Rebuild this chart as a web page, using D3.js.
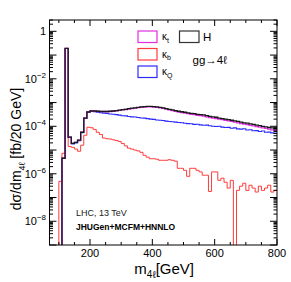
<!DOCTYPE html>
<html lang="en">
  <head>
    <meta charset="utf-8">
    <title>gg to 4l</title>
    <script type="text/javascript" src="https://cdn.jsdelivr.net/npm/d3@7"></script>
    <style>
      body { margin: 0; background: #fff; }
      text { font-family: "Liberation Sans", Arial, sans-serif; }
    </style>
  </head>
  <body>
    <script type="text/javascript">
    // bin lower edges, 10 GeV wide, from 70 to 790
    var binLow = d3.range(70, 800, 10);

    // H (black)
    var hVals = [0, 0, 0, 0, 4.5e-6, 0.19, 3.5e-5, 1.9e-5, 2.1e-5, 2.6e-5, 5.6e-5, 2.2e-4, 4.0e-4,
      4.4e-4, 4.4e-4, 4.3e-4, 4.2e-4, 4.2e-4, 4.2e-4, 4.3e-4, 4.4e-4, 4.6e-4, 4.8e-4,
      5.0e-4, 5.2e-4, 5.5e-4, 5.8e-4, 6.0e-4, 6.3e-4, 6.6e-4, 6.8e-4, 6.9e-4, 6.9e-4,
      6.8e-4, 6.6e-4, 6.3e-4, 6.0e-4, 5.6e-4, 5.2e-4, 4.9e-4, 4.6e-4, 4.3e-4, 4.1e-4,
      3.9e-4, 3.7e-4, 3.5e-4, 3.4e-4, 3.2e-4, 3.1e-4, 3.0e-4, 2.8e-4, 2.6e-4, 2.5e-4,
      2.4e-4, 2.2e-4, 2.1e-4, 2.0e-4, 1.9e-4, 1.8e-4, 1.7e-4, 1.6e-4, 1.5e-4, 1.4e-4,
      1.35e-4, 1.26e-4, 1.2e-4, 1.12e-4, 1.07e-4, 1.0e-4, 9.5e-5, 8.9e-5, 8.5e-5, 7.9e-5];

    // kappa_t (magenta)
    var ktVals = [0, 0, 0, 0, 4.5e-6, 0.19, 3.5e-5, 1.9e-5, 2.1e-5, 2.6e-5, 5.6e-5, 2.2e-4, 4.0e-4,
      4.4e-4, 4.4e-4, 4.3e-4, 4.2e-4, 4.2e-4, 4.2e-4, 4.2e-4, 4.3e-4, 4.5e-4, 4.7e-4,
      4.9e-4, 5.1e-4, 5.3e-4, 5.6e-4, 5.8e-4, 6.1e-4, 6.3e-4, 6.5e-4, 6.6e-4, 6.6e-4,
      6.5e-4, 6.3e-4, 6.0e-4, 5.7e-4, 5.3e-4, 4.9e-4, 4.6e-4, 4.3e-4, 4.0e-4, 3.8e-4,
      3.6e-4, 3.4e-4, 3.2e-4, 3.1e-4, 2.9e-4, 2.8e-4, 2.7e-4, 2.5e-4, 2.3e-4, 2.2e-4,
      2.1e-4, 2.0e-4, 1.9e-4, 1.8e-4, 1.7e-4, 1.6e-4, 1.5e-4, 1.4e-4, 1.3e-4, 1.25e-4,
      1.18e-4, 1.1e-4, 1.04e-4, 9.7e-5, 9.2e-5, 8.6e-5, 8.1e-5, 7.6e-5, 7.1e-5, 6.7e-5];

    // kappa_Q (blue)
    var kqVals = [0, 0, 0, 0, 4.5e-6, 0.19, 3.4e-5, 1.8e-5, 2.0e-5, 2.5e-5, 5.4e-5, 2.2e-4, 4.0e-4,
      4.3e-4, 4.1e-4, 3.9e-4, 3.7e-4, 3.6e-4, 3.5e-4, 3.3e-4, 3.2e-4, 3.1e-4, 2.95e-4,
      2.8e-4, 2.75e-4, 2.6e-4, 2.5e-4, 2.45e-4, 2.35e-4, 2.25e-4, 2.2e-4, 2.1e-4, 2.0e-4,
      1.95e-4, 1.85e-4, 1.8e-4, 1.75e-4, 1.65e-4, 1.6e-4, 1.55e-4, 1.5e-4, 1.45e-4, 1.4e-4,
      1.35e-4, 1.3e-4, 1.28e-4, 1.2e-4, 1.22e-4, 1.15e-4, 1.1e-4, 1.12e-4, 1.05e-4, 1.0e-4,
      9.8e-5, 1.0e-4, 9.2e-5, 8.9e-5, 9.0e-5, 8.3e-5, 8.6e-5, 7.8e-5, 7.6e-5, 7.9e-5,
      7.0e-5, 7.2e-5, 6.5e-5, 6.6e-5, 6.0e-5, 6.3e-5, 5.6e-5, 5.7e-5, 5.3e-5, 5.1e-5];

    // kappa_b (red)
    var kbVals = [0, 0, 0, 4.8e-7, 7.3e-6, 0.19, 1.4e-5, 1.3e-5, 1.1e-5, 8.9e-6, 1.6e-5, 4.2e-5, 9.1e-5,
      8.7e-5, 7.4e-5, 5.6e-5, 4.5e-5, 3.2e-5, 3.0e-5, 2.9e-5, 2.7e-5, 2.5e-5, 2.3e-5,
      1.9e-5, 1.5e-5, 1.2e-5, 1.1e-5, 1.0e-5, 9.2e-6, 8.0e-6, 6.0e-6, 5.0e-6, 4.3e-6,
      4.3e-6, 4.1e-6, 3.7e-6, 3.7e-6, 3.7e-6, 3.9e-6, 3.7e-6, 3.4e-6, 1.7e-6, 1.7e-6,
      1.4e-6, 7.8e-7, 1.7e-6, 1.7e-6, 1.4e-6, 1.2e-6, 8.7e-7, 8.7e-7, 1.8e-7, 1.2e-6,
      1.2e-6, 5.3e-7, 6.5e-7, 4.4e-7, 2.5e-7, 5.3e-7, 0, 2.0e-7, 3.0e-7, 4.0e-7,
      2.0e-7, 3.3e-7, 2.5e-7, 1.7e-7, 3.0e-7, 2.0e-7, 2.5e-7, 3.3e-7, 1.7e-7, 2.0e-7];

    var xMajor = [200, 400, 600, 800];
    var yLabelExp = [0, -2, -4, -6, -8];

    var w = 291, h = 282;
    var fLeft = 49.5, fRight = 277, fTop = 20, fBottom = 245;

    var svg = d3.select("body").append("svg")
                .attr("width", w).attr("height", h);

    var xScale = d3.scaleLinear().domain([70, 800]).range([fLeft, fRight]);
    var yScale = d3.scaleLog().domain([1e-9, 3]).range([fBottom, fTop]);

    svg.append("clipPath").attr("id", "frame")
       .append("rect").attr("x", fLeft).attr("y", fTop)
       .attr("width", fRight - fLeft).attr("height", fBottom - fTop);

    // step path for a histogram, zero bins go to the floor
    var stepPath = function(vals) {
      var yv = function(v) { return v > 0 ? yScale(v) : fBottom + 1; };
      var p = "M" + xScale(binLow[0]) + "," + yv(vals[0]);
      vals.forEach(function(v, i) {
        var x0 = xScale(binLow[i]), x1 = xScale(binLow[i] + 10);
        p += "L" + x0 + "," + yv(v) + "L" + x1 + "," + yv(v);
      });
      return p;
    };

    // drawing order: red, blue, magenta, black on top
    var series = [
      { vals: kbVals, color: "#ff3b3b", width: 1 },
      { vals: kqVals, color: "#2a2aff", width: 1.1 },
      { vals: ktVals, color: "#e02ee0", width: 1.3 },
      { vals: hVals, color: "#1a1a1a", width: 1.3 }
    ];

    svg.append("g").attr("clip-path", "url(#frame)")
       .selectAll("path").data(series).enter()
       .append("path")
       .attr("d", function(d) { return stepPath(d.vals); })
       .attr("fill", "none")
       .attr("stroke", function(d) { return d.color; })
       .attr("stroke-width", function(d) { return d.width; });

    // frame
    svg.append("rect").attr("x", fLeft).attr("y", fTop)
       .attr("width", fRight - fLeft).attr("height", fBottom - fTop)
       .attr("fill", "none").attr("stroke", "#000").attr("stroke-width", 1);

    // x ticks (bottom and top)
    var xMinor = d3.range(100, 800, 50).filter(function(v) { return xMajor.indexOf(v) < 0; });
    var xt = svg.append("g").attr("stroke", "#000").attr("stroke-width", 1);
    [[xMajor, 6], [xMinor, 3]].forEach(function(set) {
      set[0].forEach(function(v) {
        xt.append("line").attr("x1", xScale(v)).attr("x2", xScale(v))
          .attr("y1", fBottom).attr("y2", fBottom - set[1]);
        xt.append("line").attr("x1", xScale(v)).attr("x2", xScale(v))
          .attr("y1", fTop).attr("y2", fTop + set[1]);
      });
    });
    svg.selectAll(".xlab").data(xMajor).enter().append("text")
       .attr("x", function(d) { return xScale(d); })
       .attr("y", 257)
       .attr("text-anchor", "middle")
       .attr("font-size", 11)
       .text(function(d) { return d; });

    // y ticks (log, left and right)
    var yt = svg.append("g").attr("stroke", "#000").attr("stroke-width", 1);
    for (var e = -9; e <= 0; e++) {
      for (var m = 1; m <= 9; m++) {
        var v = m * Math.pow(10, e);
        if (v > 3) continue;
        var len = m === 1 ? 7 : 3.5;
        var yy = yScale(v);
        yt.append("line").attr("x1", fLeft).attr("x2", fLeft + len).attr("y1", yy).attr("y2", yy);
        yt.append("line").attr("x1", fRight).attr("x2", fRight - len).attr("y1", yy).attr("y2", yy);
      }
    }
    yLabelExp.forEach(function(e) {
      var t = svg.append("text")
                 .attr("x", 46).attr("y", yScale(Math.pow(10, e)) + 4)
                 .attr("text-anchor", "end").attr("font-size", 11);
      if (e === 0) {
        t.text("1");
      } else {
        t.append("tspan").text("10");
        t.append("tspan").attr("dy", -5).attr("font-size", 8).text("\u2212" + (-e));
      }
    });

    // axis titles
    var xt2 = svg.append("text").attr("x", 194).attr("y", 274)
                 .attr("text-anchor", "end").attr("font-size", 15);
    xt2.append("tspan").text("m");
    xt2.append("tspan").attr("dy", 4).attr("font-size", 10).text("4\u2113");
    xt2.append("tspan").attr("dy", -4).text("[GeV]");

    var yt2 = svg.append("text")
                 .attr("transform", "translate(21,149) rotate(-90)")
                 .attr("text-anchor", "middle").attr("font-size", 14);
    yt2.append("tspan").text("d\u03c3/dm");
    yt2.append("tspan").attr("dy", 4).attr("font-size", 9).text("4\u2113");
    yt2.append("tspan").attr("dy", -4).text(" [fb/20 GeV]");

    // legend
    var legend = [
      { name: "\u03ba", sub: "t", color: "#e02ee0", x: 138, y: 31 },
      { name: "\u03ba", sub: "b", color: "#ff3b3b", x: 138, y: 48.5 },
      { name: "\u03ba", sub: "Q", color: "#2a2aff", x: 138, y: 66 }
    ];
    legend.forEach(function(d) {
      svg.append("rect").attr("x", d.x).attr("y", d.y).attr("width", 19).attr("height", 11.5)
         .attr("fill", "#fff").attr("stroke", d.color).attr("stroke-width", 1.2);
      var t = svg.append("text").attr("x", d.x + 24).attr("y", d.y + 9).attr("font-size", 10);
      t.append("tspan").text(d.name);
      t.append("tspan").attr("dy", 2.5).attr("font-size", 7).text(d.sub);
    });
    svg.append("rect").attr("x", 179.5).attr("y", 31).attr("width", 19.5).attr("height", 11.5)
       .attr("fill", "#fff").attr("stroke", "#333").attr("stroke-width", 1.2);
    svg.append("text").attr("x", 203).attr("y", 41).attr("font-size", 11.5).text("H");
    svg.append("text").attr("x", 192.5).attr("y", 63.5).attr("font-size", 11.5).text("gg\u21924\u2113");

    svg.append("text").attr("x", 76).attr("y", 216).attr("font-size", 9).attr("fill", "#222")
       .text("LHC, 13 TeV");
    svg.append("text").attr("x", 76).attr("y", 229.5).attr("font-size", 8.5).attr("font-weight", "bold")
       .text("JHUGen+MCFM+HNNLO");
    </script>
  </body>
</html>
